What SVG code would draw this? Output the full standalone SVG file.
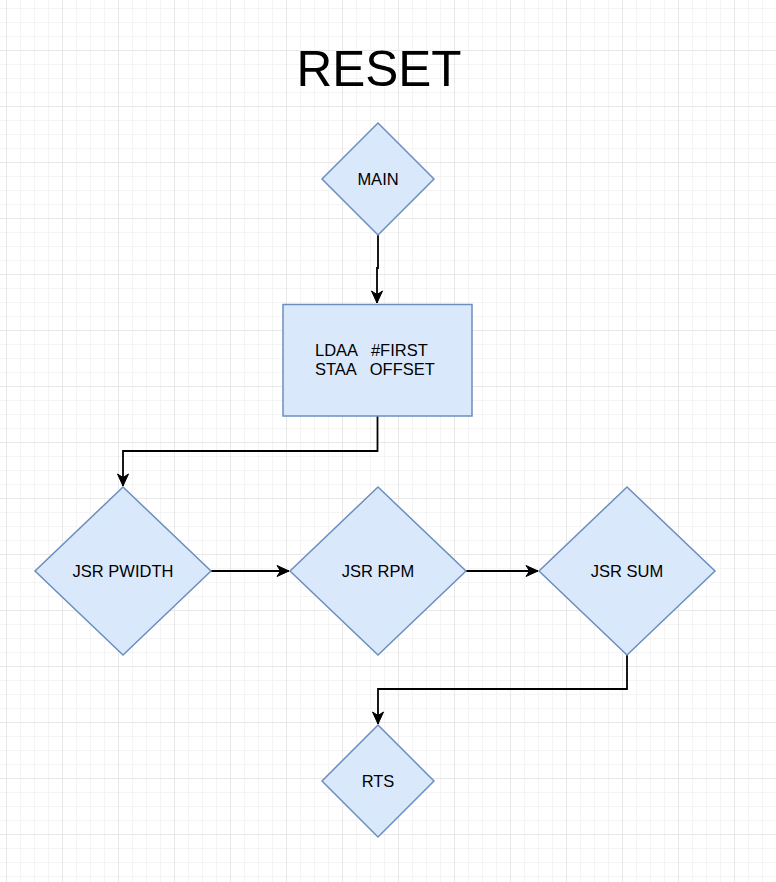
<svg xmlns="http://www.w3.org/2000/svg" width="776" height="882" viewBox="0 0 776 882">
<style>
.node{fill:#dae8fc;stroke:#6c8ebf;stroke-width:1.5}
.lbl{font-family:"Liberation Sans",Arial,Helvetica,sans-serif;font-size:16.5px;fill:#000}
.edge{fill:none;stroke:#000;stroke-width:1.8}
</style>
<defs>
<pattern id="grid" x="6" y="50" width="56" height="56" patternUnits="userSpaceOnUse">
<path d="M14.5,0V56M28.5,0V56M42.5,0V56M0,14.5H56M0,28.5H56M0,42.5H56" stroke="#f4f4f4" stroke-width="1" fill="none"/>
<path d="M0.5,0V56M0,0.5H56" stroke="#e8e8e8" stroke-width="1" fill="none"/>
</pattern>
<marker id="arr" markerUnits="userSpaceOnUse" markerWidth="16" markerHeight="14" viewBox="-13 -7 14 14" refX="0" refY="0" orient="auto">
<path d="M0,0 L-12,-5.5 L-8.5,0 L-12,5.5 Z" fill="#000" stroke="#000" stroke-width="1"/>
</marker>
</defs>
<rect x="0" y="0" width="776" height="882" fill="#ffffff"/>
<rect x="0" y="0" width="776" height="882" fill="url(#grid)"/>
<text x="379" y="86" text-anchor="middle" font-family="Liberation Sans, Arial, Helvetica, sans-serif" font-size="49.5" fill="#000">RESET</text>
<g id="connectors">
<path class="edge" d="M378,235 V268 H377 V303" marker-end="url(#arr)"/>
<path class="edge" d="M377.5,416 V451 H123 V486" marker-end="url(#arr)"/>
<path class="edge" d="M211,571 H289" marker-end="url(#arr)"/>
<path class="edge" d="M466,571 H538" marker-end="url(#arr)"/>
<path class="edge" d="M627,655 V689 H378 V724" marker-end="url(#arr)"/>
</g>
<g id="main">
<polygon class="node" points="378,123 434,179 378,235 322,179"/>
<text class="lbl" x="378" y="184.5" text-anchor="middle">MAIN</text>
</g>
<g id="init">
<rect class="node" x="283" y="304.5" width="189" height="111.5"/>
<text class="lbl" x="315" y="355.5" xml:space="preserve" style="white-space:pre">LDAA   #FIRST</text>
<text class="lbl" x="315" y="375" xml:space="preserve" style="white-space:pre">STAA   OFFSET</text>
</g>
<g id="pwidth">
<polygon class="node" points="123,487 211,571 123,655 35,571"/>
<text class="lbl" x="123" y="576.5" text-anchor="middle">JSR PWIDTH</text>
</g>
<g id="rpm">
<polygon class="node" points="378,487 466,571 378,655 290,571"/>
<text class="lbl" x="378" y="576.5" text-anchor="middle">JSR RPM</text>
</g>
<g id="sum">
<polygon class="node" points="627,487 715,571 627,655 539,571"/>
<text class="lbl" x="627" y="576.5" text-anchor="middle">JSR SUM</text>
</g>
<g id="rts">
<polygon class="node" points="378,725 434,781 378,837 322,781"/>
<text class="lbl" x="378" y="786.5" text-anchor="middle">RTS</text>
</g>
</svg>
